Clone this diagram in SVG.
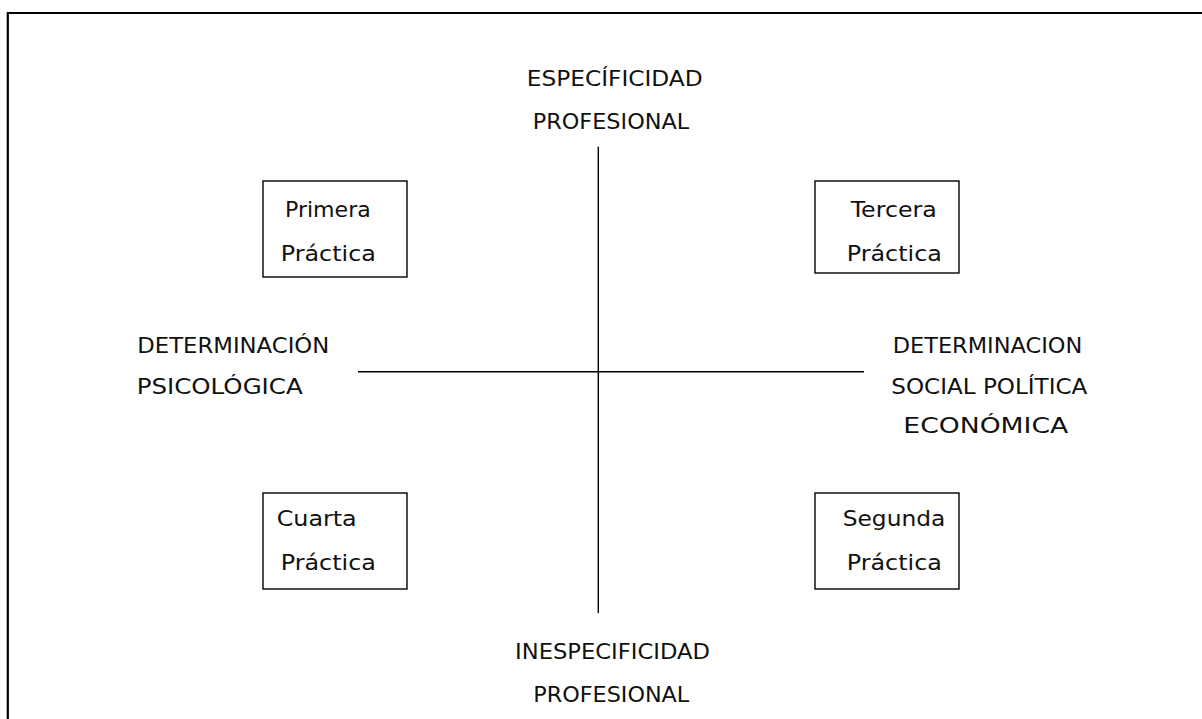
<svg xmlns="http://www.w3.org/2000/svg" width="1202" height="719" viewBox="0 0 1202 719">
<style>
text{font-family:"DejaVu Sans","Liberation Sans",sans-serif;font-size:22px;fill:#111;}
.box{fill:#fff;stroke:#000;stroke-width:1.4;}
.ax{stroke:#000;stroke-width:1.4;fill:none;}
</style>
<rect x="0" y="0" width="1202" height="719" fill="#fff"/>
<path d="M7.8,719 V13 H1202" fill="none" stroke="#000" stroke-width="2.2"/>
<g id="connectors">
<line class="ax" x1="598.3" y1="146.7" x2="598.3" y2="613"/>
<line class="ax" x1="358" y1="371.7" x2="864" y2="371.7"/>
</g>
<g id="top-label">
<text x="526.7" y="86" textLength="176" lengthAdjust="spacingAndGlyphs">ESPECÍFICIDAD</text>
<text x="532.7" y="128.7" textLength="156.6" lengthAdjust="spacingAndGlyphs">PROFESIONAL</text>
</g>
<g id="bottom-label">
<text x="515" y="658.7" textLength="195" lengthAdjust="spacingAndGlyphs">INESPECIFICIDAD</text>
<text x="533.3" y="701.7" textLength="156" lengthAdjust="spacingAndGlyphs">PROFESIONAL</text>
</g>
<g id="left-label">
<text x="137.3" y="353.3" textLength="192" lengthAdjust="spacingAndGlyphs">DETERMINACIÓN</text>
<text x="136.7" y="394" textLength="166" lengthAdjust="spacingAndGlyphs">PSICOLÓGICA</text>
</g>
<g id="right-label">
<text x="892.7" y="353.3" textLength="189.6" lengthAdjust="spacingAndGlyphs">DETERMINACION</text>
<text x="891.3" y="394" textLength="196" lengthAdjust="spacingAndGlyphs">SOCIAL POLÍTICA</text>
<text x="903.3" y="433.3" textLength="165" lengthAdjust="spacingAndGlyphs">ECONÓMICA</text>
</g>
<g id="primera">
<rect class="box" x="263" y="181" width="144" height="96"/>
<text x="285" y="216.7" textLength="85.7" lengthAdjust="spacingAndGlyphs">Primera</text>
<text x="280.7" y="260.7" textLength="95.3" lengthAdjust="spacingAndGlyphs">Práctica</text>
</g>
<g id="tercera">
<rect class="box" x="815" y="181" width="144" height="92"/>
<text x="850.7" y="216.7" textLength="86" lengthAdjust="spacingAndGlyphs">Tercera</text>
<text x="846.7" y="260.7" textLength="95.3" lengthAdjust="spacingAndGlyphs">Práctica</text>
</g>
<g id="cuarta">
<rect class="box" x="263" y="493" width="144" height="96"/>
<text x="276.7" y="526" textLength="80" lengthAdjust="spacingAndGlyphs">Cuarta</text>
<text x="280.7" y="570" textLength="95.3" lengthAdjust="spacingAndGlyphs">Práctica</text>
</g>
<g id="segunda">
<rect class="box" x="815" y="493" width="144" height="96"/>
<text x="842.7" y="526" textLength="102.6" lengthAdjust="spacingAndGlyphs">Segunda</text>
<text x="846.7" y="570" textLength="95.3" lengthAdjust="spacingAndGlyphs">Práctica</text>
</g>
</svg>
